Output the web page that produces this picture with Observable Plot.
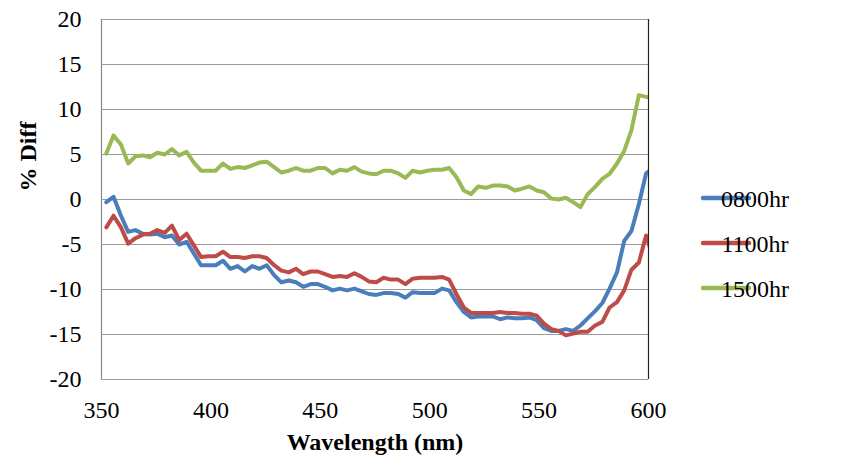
<!DOCTYPE html>
<html>
<head>
<meta charset="utf-8">
<script src="https://cdn.jsdelivr.net/npm/d3@7"></script>
<script src="https://cdn.jsdelivr.net/npm/@observablehq/plot@0.6"></script>
<style>
  body { margin: 0; background: #fff; }
  #wrap { position: relative; width: 844px; height: 465px; font-family: "Liberation Serif", Tinos, serif; }
</style>
</head>
<body>
<div id="wrap"></div>
<script>
const wavelength = [352.2, 355.5, 358.9, 362.2, 365.5, 368.9, 372.2, 375.5, 378.9, 382.2,
  385.5, 388.9, 392.2, 395.5, 398.9, 402.2, 405.5, 408.9, 412.2, 415.5,
  418.9, 422.2, 425.5, 428.9, 432.2, 435.6, 438.9, 442.2, 445.6, 448.9,
  452.2, 455.6, 458.9, 462.2, 465.6, 468.9, 472.2, 475.6, 478.9, 482.2,
  485.6, 488.9, 492.2, 495.6, 498.9, 502.2, 505.6, 508.9, 512.2, 515.6,
  518.9, 522.2, 525.6, 528.9, 532.2, 535.6, 538.9, 542.2, 545.6, 548.9,
  552.2, 555.6, 558.9, 562.2, 565.6, 568.9, 572.2, 575.6, 578.9, 582.2,
  585.6, 588.9, 592.2, 595.6, 598.9, 602.2];

const seriesNames = ["0800hr", "1100hr", "1500hr"];
const seriesColors = ["#4A7EBB", "#BE4B48", "#98B954"];

const diff0800 = [-0.3, 0.3, -1.8, -3.6, -3.4, -3.8, -3.9, -3.8, -4.2, -4.0,
  -5.0, -4.7, -6.0, -7.3, -7.3, -7.3, -6.8, -7.7, -7.4, -8.0,
  -7.4, -7.7, -7.3, -8.4, -9.2, -9.0, -9.2, -9.7, -9.4, -9.4,
  -9.7, -10.1, -9.9, -10.1, -9.9, -10.2, -10.5, -10.6, -10.4, -10.4,
  -10.5, -10.9, -10.3, -10.4, -10.4, -10.4, -9.9, -10.1, -11.4, -12.5,
  -13.1, -13.0, -13.0, -13.0, -13.3, -13.1, -13.2, -13.2, -13.1, -13.4,
  -14.3, -14.6, -14.6, -14.4, -14.6, -14.0, -13.2, -12.4, -11.5, -9.9,
  -8.1, -4.6, -3.5, -0.5, 2.9, 3.5];

const diff1100 = [-3.1, -1.8, -3.1, -4.9, -4.3, -3.9, -3.8, -3.4, -3.7, -2.9,
  -4.5, -3.8, -5.1, -6.4, -6.3, -6.3, -5.8, -6.4, -6.4, -6.5,
  -6.3, -6.3, -6.5, -7.3, -7.9, -8.1, -7.7, -8.3, -8.0, -8.0,
  -8.3, -8.6, -8.5, -8.6, -8.2, -8.6, -9.1, -9.2, -8.7, -8.9,
  -8.9, -9.4, -8.8, -8.7, -8.7, -8.7, -8.6, -8.9, -10.5, -12.0,
  -12.6, -12.6, -12.6, -12.6, -12.5, -12.6, -12.6, -12.7, -12.7, -12.9,
  -13.8, -14.4, -14.6, -15.1, -14.9, -14.7, -14.7, -14.0, -13.6, -12.0,
  -11.4, -10.1, -7.8, -7.0, -4.0, -6.5];

const diff1500 = [5.1, 7.1, 6.1, 4.0, 4.8, 4.9, 4.7, 5.2, 5.0, 5.6,
  4.9, 5.3, 4.1, 3.2, 3.2, 3.2, 4.0, 3.4, 3.6, 3.5,
  3.8, 4.1, 4.2, 3.6, 3.0, 3.2, 3.5, 3.2, 3.2, 3.5,
  3.5, 2.9, 3.3, 3.2, 3.6, 3.1, 2.9, 2.8, 3.2, 3.2,
  2.9, 2.4, 3.2, 3.0, 3.2, 3.3, 3.3, 3.5, 2.5, 1.0,
  0.6, 1.45, 1.3, 1.55, 1.55, 1.45, 1.0, 1.2, 1.45, 1.0,
  0.8, 0.1, 0.0, 0.2, -0.3, -0.85, 0.6, 1.4, 2.3, 2.85,
  4.0, 5.4, 7.7, 11.6, 11.4, 11.3];

const yTicks = [20, 15, 10, 5, 0, -5, -10, -15, -20];
const xTicks = [350, 400, 450, 500, 550, 600];
const xLabel = "Wavelength (nm)";
const yLabel = "% Diff";

const seriesValues = [diff0800, diff1100, diff1500];
const rows = [];
seriesNames.forEach((name, k) => {
  wavelength.forEach((w, i) => rows.push({ series: name, wl: w, v: seriesValues[k][i] }));
});

const FONT = "'Liberation Serif', Tinos, serif";

const chart = Plot.plot({
  width: 844,
  height: 465,
  marginLeft: 101,
  marginRight: 196,
  marginTop: 19,
  marginBottom: 86,
  style: { fontFamily: FONT, fontSize: "24px", color: "#000", background: "#fff", overflow: "visible" },
  x: { domain: [350, 600], ticks: xTicks, tickSize: 0, tickPadding: 21, label: null, tickFormat: d => String(d) },
  y: { domain: [-20, 20], ticks: yTicks, tickSize: 0, tickPadding: 20, label: null, tickFormat: d => String(d) },
  color: { domain: seriesNames, range: seriesColors },
  marks: [
    Plot.ruleY(yTicks, { stroke: "#9a9a9a", strokeWidth: 1.2 }),
    Plot.ruleX([350], { stroke: "#8a8a8a", strokeWidth: 1.2 }),
    Plot.line(rows, { x: "wl", y: "v", z: "series", stroke: "series", strokeWidth: 4, strokeLinejoin: "round", strokeLinecap: "round", clip: true }),
    Plot.ruleX([600], { stroke: "#222", strokeWidth: 1.2 }),
    Plot.text([xLabel], { frameAnchor: "bottom", dy: 70, fontWeight: "bold", fontSize: 24, fontFamily: FONT, fill: "#000" }),
    Plot.text([yLabel], { frameAnchor: "left", dx: -73, dy: -8, rotate: -90, fontWeight: "bold", fontSize: 24, fontFamily: FONT, fill: "#000" })
  ]
});

document.getElementById("wrap").appendChild(chart);

// Legend
const svg = d3.select(chart);
const lg = svg.append("g").attr("font-family", FONT).attr("font-size", 24);
seriesNames.forEach((name, k) => {
  const cy = 198 + k * 45;
  lg.append("line").attr("x1", 703).attr("x2", 749).attr("y1", cy).attr("y2", cy)
    .attr("stroke", seriesColors[k]).attr("stroke-width", 4.5).attr("stroke-linecap", "round");
  lg.append("text").attr("x", 755).attr("y", cy + 8.5).attr("fill", "#000").text(name);
});
</script>
</body>
</html>
